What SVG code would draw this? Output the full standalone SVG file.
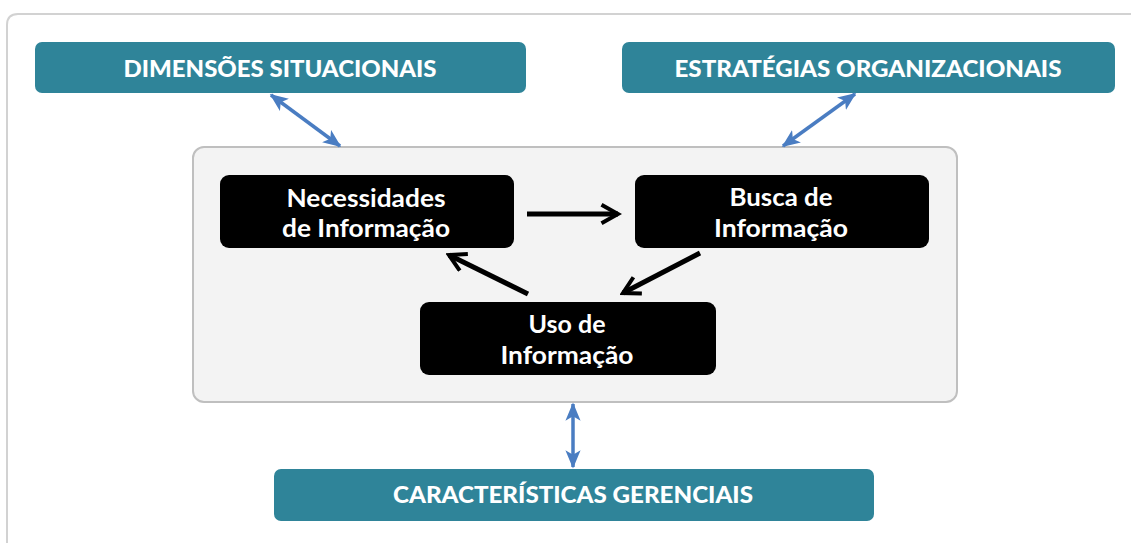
<svg xmlns="http://www.w3.org/2000/svg" width="1131" height="543" viewBox="0 0 1131 543">
  <defs>
    <style>
      .teal { fill: #2f8499; }
      .tealtxt { fill: #ffffff; font-family: Lato, "Open Sans", sans-serif; font-weight: 900; font-size: 23px; text-anchor: middle; }
      .blk { fill: #000000; }
      .blktxt { fill: #ffffff; font-family: Lato, "Open Sans", sans-serif; font-weight: bold; font-size: 24px; text-anchor: middle; }
      .blue { stroke: #4a7dc2; stroke-width: 3.5; fill: none; }
      .black { stroke: #000000; stroke-width: 5; fill: none; }
    </style>
    <marker id="bh" viewBox="0 0 12 10" refX="11" refY="5" markerWidth="5.2" markerHeight="4.5" markerUnits="strokeWidth" orient="auto-start-reverse">
      <path d="M0,0 L12,5 L0,10 L3,5 Z" fill="#4a7dc2"/>
    </marker>
    <marker id="kh" viewBox="0 0 12 12" refX="10" refY="6" markerWidth="4.4" markerHeight="4.4" markerUnits="strokeWidth" orient="auto">
      <path d="M1,1 L10,6 L1,11" fill="none" stroke="#000" stroke-width="2.2" stroke-linejoin="miter"/>
    </marker>
  </defs>
  <rect width="1131" height="543" fill="#ffffff"/>
  <path d="M1131,14 L18,14 Q7,14 7,25 L7,543" fill="none" stroke="#d2d2d2" stroke-width="2"/>

  <g id="container">
    <rect x="193" y="147" width="764" height="255" rx="11" fill="#f3f3f3" stroke="#bfbfbf" stroke-width="2"/>
  </g>

  <g id="dimensoes">
    <rect class="teal" x="35" y="42" width="491" height="51" rx="7"/>
    <text class="tealtxt" x="280" y="77" textLength="313" lengthAdjust="spacingAndGlyphs">DIMENSÕES SITUACIONAIS</text>
  </g>
  <g id="estrategias">
    <rect class="teal" x="622" y="42" width="493" height="51" rx="7"/>
    <text class="tealtxt" x="868" y="77" textLength="387" lengthAdjust="spacingAndGlyphs">ESTRATÉGIAS ORGANIZACIONAIS</text>
  </g>
  <g id="caracteristicas">
    <rect class="teal" x="274" y="469" width="600" height="52" rx="7"/>
    <text class="tealtxt" x="573" y="503" textLength="360" lengthAdjust="spacingAndGlyphs">CARACTERÍSTICAS GERENCIAIS</text>
  </g>

  <g id="necessidades">
    <rect class="blk" x="220" y="175" width="294" height="73" rx="9"/>
    <text class="blktxt" x="366" y="207" textLength="159" lengthAdjust="spacingAndGlyphs">Necessidades</text>
    <text class="blktxt" x="366" y="237" textLength="168" lengthAdjust="spacingAndGlyphs">de Informação</text>
  </g>
  <g id="busca">
    <rect class="blk" x="635" y="175" width="294" height="73" rx="9"/>
    <text class="blktxt" x="781" y="206" textLength="103" lengthAdjust="spacingAndGlyphs">Busca de</text>
    <text class="blktxt" x="781" y="237" textLength="134" lengthAdjust="spacingAndGlyphs">Informação</text>
  </g>
  <g id="uso">
    <rect class="blk" x="420" y="302" width="296" height="73" rx="9"/>
    <text class="blktxt" x="567" y="333" textLength="77" lengthAdjust="spacingAndGlyphs">Uso de</text>
    <text class="blktxt" x="567" y="364" textLength="133" lengthAdjust="spacingAndGlyphs">Informação</text>
  </g>

  <g id="connectors">
    <line class="blue" x1="271" y1="95" x2="340" y2="146" marker-start="url(#bh)" marker-end="url(#bh)"/>
    <line class="blue" x1="855" y1="94" x2="783" y2="146" marker-start="url(#bh)" marker-end="url(#bh)"/>
    <line class="blue" x1="573" y1="404" x2="573" y2="467" marker-start="url(#bh)" marker-end="url(#bh)"/>
    <line class="black" x1="527" y1="214" x2="618" y2="214" marker-end="url(#kh)"/>
    <line class="black" x1="528" y1="294" x2="449" y2="255" marker-end="url(#kh)"/>
    <line class="black" x1="700" y1="253" x2="623" y2="293" marker-end="url(#kh)"/>
  </g>
</svg>
